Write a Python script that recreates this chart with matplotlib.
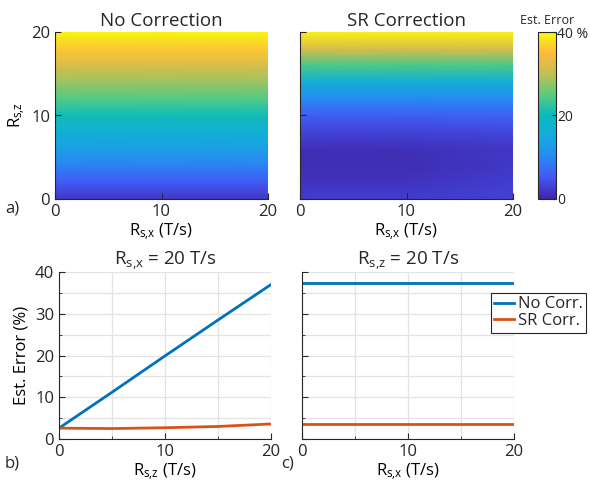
import numpy as np
import matplotlib
matplotlib.use("Agg")
import matplotlib.pyplot as plt
import matplotlib.colors as mcolors

# --- data ---
grid_x = [0, 10, 20]
grid_z = [0, 2, 4, 6, 8, 10, 12, 14, 16, 18, 20]

# rows follow grid_z, columns follow grid_x (Est. Error, %)
err_no_corr = [
    [2.0, 2.0, 2.0],
    [5.5, 5.5, 5.5],
    [9.5, 9.5, 9.5],
    [13.0, 13.0, 13.0],
    [16.5, 16.5, 16.5],
    [20.5, 20.5, 20.5],
    [24.5, 24.5, 24.5],
    [28.0, 28.0, 28.0],
    [32.0, 32.0, 32.0],
    [36.0, 36.0, 36.0],
    [39.5, 39.5, 39.5],
]
err_sr_corr = [
    [2.5, 2.5, 3.0],
    [1.5, 1.5, 2.5],
    [0.8, 0.8, 2.0],
    [1.0, 1.2, 2.0],
    [3.0, 3.0, 3.5],
    [6.0, 6.0, 6.5],
    [10.0, 10.0, 10.0],
    [16.0, 16.0, 16.0],
    [24.0, 24.0, 24.0],
    [32.0, 32.0, 32.0],
    [39.0, 39.0, 39.0],
]

# panel b: Rs,x = 20 T/s, sweep Rs,z
line_rsz = [0, 5, 10, 15, 20]
b_no_corr = [2.6, 11.2, 19.9, 28.5, 37.0]
b_sr_corr = [2.6, 2.5, 2.7, 3.0, 3.6]

# panel c: Rs,z = 20 T/s, sweep Rs,x
line_rsx = [0, 5, 10, 15, 20]
c_no_corr = [37.3, 37.3, 37.3, 37.3, 37.3]
c_sr_corr = [3.7, 3.7, 3.7, 3.7, 3.7]

# --- style ---
plt.rcParams["font.family"] = ["Open Sans", "DejaVu Sans"]
plt.rcParams["mathtext.fontset"] = "custom"
plt.rcParams["mathtext.rm"] = "Open Sans"
plt.rcParams["mathtext.it"] = "Open Sans:italic"
plt.rcParams["axes.edgecolor"] = "#262626"
plt.rcParams["xtick.color"] = "#262626"
plt.rcParams["ytick.color"] = "#262626"
plt.rcParams["text.color"] = "#262626"

BLUE = "#0072BD"
ORANGE = "#D95319"
TICK_FS = 12
TITLE_FS = 13.5

parula = mcolors.LinearSegmentedColormap.from_list(
    "parula",
    [
        (0.000, (0.2422, 0.1504, 0.6603)),
        (0.125, (0.2700, 0.3300, 0.9600)),
        (0.250, (0.1540, 0.5400, 0.9500)),
        (0.375, (0.0800, 0.6700, 0.8700)),
        (0.500, (0.0300, 0.7300, 0.7500)),
        (0.625, (0.3500, 0.8000, 0.5000)),
        (0.750, (0.7600, 0.7500, 0.3200)),
        (0.875, (0.9900, 0.7300, 0.2400)),
        (1.000, (0.9763, 0.9831, 0.0538)),
    ],
)

W, H = 590, 483


def rect(l, t, r, b):
    return [l / W, 1 - b / H, (r - l) / W, (b - t) / H]


def style_axes(ax):
    for s in ("top", "right"):
        ax.spines[s].set_visible(False)
    ax.tick_params(direction="in", length=4, labelsize=TICK_FS, which="both")
    ax.tick_params(which="minor", length=2.5)


fig = plt.figure(figsize=(W / 100, H / 100), dpi=100)

ax_a1 = fig.add_axes(rect(55, 32, 268, 199))
ax_a2 = fig.add_axes(rect(300, 32, 513, 199))
ax_cb = fig.add_axes(rect(538, 32, 556, 199))
ax_b = fig.add_axes(rect(59, 272, 271, 439))
ax_c = fig.add_axes(rect(302, 272, 514, 439))

norm = mcolors.Normalize(vmin=0, vmax=40)
for ax, vals, title in [
    (ax_a1, err_no_corr, "No Correction"),
    (ax_a2, err_sr_corr, "SR Correction"),
]:
    mesh = ax.pcolormesh(grid_x, grid_z, np.array(vals), cmap=parula,
                         norm=norm, shading="gouraud")
    ax.set_xlim(0, 20)
    ax.set_ylim(0, 20)
    ax.set_xticks([0, 10, 20])
    ax.set_yticks([0, 10, 20])
    style_axes(ax)
    ax.set_title(title, fontsize=TITLE_FS, pad=4)
    ax.set_xlabel(r"R$_{\mathrm{s{,}x}}$ (T/s)", fontsize=TICK_FS, labelpad=1)

ax_a1.set_ylabel(r"R$_{\mathrm{s{,}z}}$", fontsize=TICK_FS, labelpad=2)
ax_a2.set_yticklabels([])

cb = fig.colorbar(mesh, cax=ax_cb, ticks=[0, 20, 40])
cb.ax.set_yticklabels(["0", "20", "40 %"])
cb.ax.tick_params(direction="in", length=3, labelsize=10, pad=1)
cb.outline.set_edgecolor("#262626")
ax_cb.set_title("Est. Error", fontsize=9, pad=6)

# line panels
ax_b.plot(line_rsz, b_no_corr, color=BLUE, lw=2)
ax_b.plot(line_rsz, b_sr_corr, color=ORANGE, lw=2)
ax_c.plot(line_rsx, c_no_corr, color=BLUE, lw=2, label="No Corr.")
ax_c.plot(line_rsx, c_sr_corr, color=ORANGE, lw=2, label="SR Corr.")

for ax in (ax_b, ax_c):
    ax.set_xlim(0, 20)
    ax.set_ylim(0, 40)
    ax.set_xticks([0, 10, 20])
    ax.set_xticks([5, 15], minor=True)
    ax.set_yticks([0, 10, 20, 30, 40])
    ax.set_yticks([5, 15, 25, 35], minor=True)
    ax.grid(True, which="both", color="#e3e3e3", lw=0.9)
    ax.set_axisbelow(True)
    style_axes(ax)

ax_b.set_title(r"R$_{\mathrm{s{,}x}}$ = 20 T/s", fontsize=TITLE_FS, pad=4)
ax_b.set_xlabel(r"R$_{\mathrm{s{,}z}}$ (T/s)", fontsize=TICK_FS, labelpad=1)
ax_b.set_ylabel("Est. Error (%)", fontsize=TICK_FS, labelpad=4)
ax_c.set_title(r"R$_{\mathrm{s{,}z}}$ = 20 T/s", fontsize=TITLE_FS, pad=4)
ax_c.set_xlabel(r"R$_{\mathrm{s{,}x}}$ (T/s)", fontsize=TICK_FS, labelpad=1)
ax_c.set_yticklabels([])

leg = ax_c.legend(loc="upper left", bbox_to_anchor=(491 / W, 1 - 293 / H),
                  bbox_transform=fig.transFigure, fontsize=12,
                  frameon=True, fancybox=False, framealpha=1,
                  handlelength=1.2, handletextpad=0.2, borderpad=0.2,
                  labelspacing=0.05, borderaxespad=0)
leg.get_frame().set_edgecolor("#262626")
leg.get_frame().set_linewidth(0.8)

# panel letters
fig.text(5 / W, 1 - 208 / H, "a)", fontsize=TICK_FS, va="center")
fig.text(5 / W, 1 - 463 / H, "b)", fontsize=TICK_FS, va="center")
fig.text(281 / W, 1 - 463 / H, "c)", fontsize=TICK_FS, va="center")

fig.savefig("out.png", dpi=100)
